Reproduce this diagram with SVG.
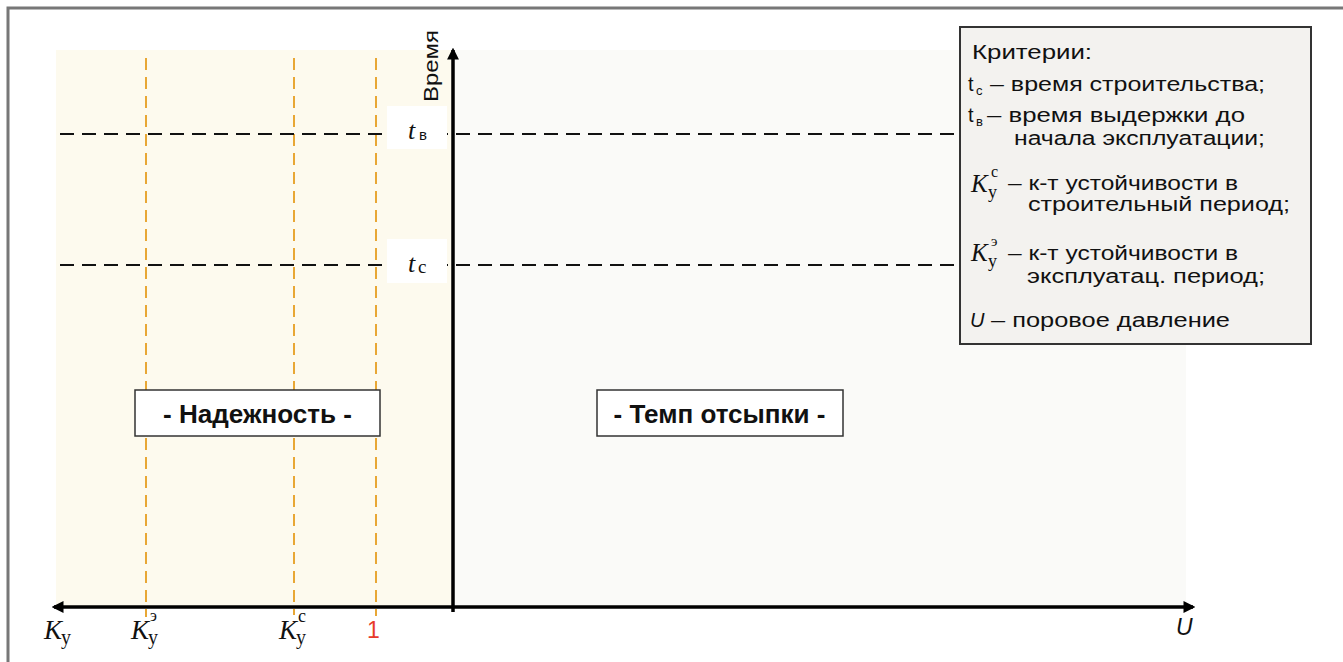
<svg xmlns="http://www.w3.org/2000/svg" width="1343" height="662" viewBox="0 0 1343 662">
  <defs>
    <style>
      .sans { font-family: "Liberation Sans", Arial, sans-serif; fill: #111; }
      .math { font-family: "Liberation Serif", "Times New Roman", serif; font-style: italic; fill: #111; }
      .up { font-family: "Liberation Serif", "Times New Roman", serif; fill: #111; }
      .legend { font-family: "Liberation Sans", Arial, sans-serif; font-size: 20px; fill: #111; }
      .sub { font-family: "Liberation Sans", Arial, sans-serif; font-size: 13px; fill: #111; }
      .guide { stroke: #e8a735; stroke-width: 2; stroke-dasharray: 12 7; fill: none; }
      .level { stroke: #111; stroke-width: 2; stroke-dasharray: 14 8; fill: none; }
      .axis { stroke: #000; stroke-width: 3.5; fill: none; }
      .tag { fill: #fff; stroke: #333; stroke-width: 1.5; }
      .tagtext { font-family: "Liberation Sans", Arial, sans-serif; font-size: 26px; font-weight: bold; fill: #111; }
    </style>
    <marker id="arrow" viewBox="0 0 10 10" refX="8" refY="5" markerWidth="3.4" markerHeight="3.8" orient="auto-start-reverse" markerUnits="strokeWidth">
      <path d="M0,0 L10,5 L0,10 z" fill="#000"/>
    </marker>
  </defs>

  <!-- page frame -->
  <rect x="0" y="0" width="1343" height="662" fill="#fff"/>
  <path d="M8,662 V8 H1343" fill="none" stroke="#777" stroke-width="3"/>

  <!-- zones -->
  <g id="zone-reliability">
    <rect x="56" y="50" width="397" height="556" fill="#fdfaee"/>
  </g>
  <g id="zone-rate">
    <rect x="453" y="50" width="733" height="556" fill="#fafaf8"/>
  </g>

  <!-- connectors: guides, levels and axes -->
  <g id="connectors">
    <line class="guide" x1="146" y1="58" x2="146" y2="617"/>
    <line class="guide" x1="294" y1="58" x2="294" y2="615"/>
    <line class="guide" x1="376" y1="58" x2="376" y2="616"/>
    <line class="level" x1="60" y1="134" x2="960" y2="134"/>
    <line class="level" x1="60" y1="265" x2="960" y2="265"/>
    <line class="axis" x1="453" y1="612" x2="453" y2="50" marker-end="url(#arrow)"/>
    <line class="axis" x1="54" y1="607" x2="1193" y2="607" marker-start="url(#arrow)" marker-end="url(#arrow)"/>
  </g>

  <!-- axis titles -->
  <g id="axis-time">
    <text class="sans" font-size="21" transform="translate(438,102) rotate(-90)" textLength="72" lengthAdjust="spacingAndGlyphs">Время</text>
  </g>
  <g id="axis-u">
    <text class="sans" font-size="23" font-style="italic" x="1176" y="635">U</text>
  </g>

  <!-- time levels -->
  <g id="level-tv">
    <rect x="387" y="106" width="60" height="43" fill="#fff"/>
    <text class="math" font-size="26" x="408" y="139">t</text>
    <text class="sans" font-size="15" x="419" y="140">в</text>
  </g>
  <g id="level-tc">
    <rect x="387" y="239" width="60" height="44" fill="#fff"/>
    <text class="math" font-size="26" x="408" y="272">t</text>
    <text class="up" font-size="19" x="418" y="273">c</text>
  </g>

  <!-- zone tags -->
  <g id="tag-reliability">
    <rect class="tag" x="135" y="390" width="245" height="46"/>
    <text class="tagtext" x="257.5" y="423" text-anchor="middle" textLength="189" lengthAdjust="spacingAndGlyphs">- Надежность -</text>
  </g>
  <g id="tag-rate">
    <rect class="tag" x="597" y="390" width="246" height="46"/>
    <text class="tagtext" x="719.5" y="423" text-anchor="middle" textLength="212" lengthAdjust="spacingAndGlyphs">- Темп отсыпки -</text>
  </g>

  <!-- horizontal axis marks -->
  <g id="mark-ky">
    <text class="math" font-size="27" x="44" y="639">K</text>
    <text class="up" font-size="20" x="61" y="644">у</text>
  </g>
  <g id="mark-ky-e">
    <text class="math" font-size="27" x="131" y="639">K</text>
    <text class="up" font-size="20" x="148" y="644">у</text>
    <text class="up" font-size="16" x="150" y="621">э</text>
  </g>
  <g id="mark-ky-c">
    <text class="math" font-size="27" x="279" y="639">K</text>
    <text class="up" font-size="20" x="296" y="644">у</text>
    <text class="up" font-size="18" x="298" y="622">с</text>
  </g>
  <g id="mark-one">
    <text font-family="Liberation Sans, Arial, sans-serif" font-size="23" fill="#e8392a" x="367" y="638">1</text>
  </g>

  <!-- criteria legend -->
  <g id="legend">
    <rect x="960" y="27" width="351" height="317" fill="#f3f2ef" stroke="#333" stroke-width="2"/>
    <text class="legend" x="972" y="59" textLength="120" lengthAdjust="spacingAndGlyphs">Критерии:</text>

    <text class="legend" x="968" y="91">t</text>
    <text class="sub" x="976" y="95">с</text>
    <text class="legend" x="990" y="91" textLength="275" lengthAdjust="spacingAndGlyphs">– время строительства;</text>

    <text class="legend" x="968" y="122">t</text>
    <text class="sub" x="976" y="126">в</text>
    <text class="legend" x="987" y="122" textLength="258" lengthAdjust="spacingAndGlyphs">– время выдержки до</text>
    <text class="legend" x="1014" y="145" textLength="251" lengthAdjust="spacingAndGlyphs">начала эксплуатации;</text>

    <text class="math" font-size="25" x="971" y="192">K</text>
    <text class="up" font-size="18" x="988" y="198">у</text>
    <text class="up" font-size="16" x="991" y="177">с</text>
    <text class="legend" x="1008" y="190" textLength="230" lengthAdjust="spacingAndGlyphs">– к-т устойчивости в</text>
    <text class="legend" x="1028" y="211" textLength="262" lengthAdjust="spacingAndGlyphs">строительный период;</text>

    <text class="math" font-size="25" x="971" y="261">K</text>
    <text class="up" font-size="18" x="988" y="267">у</text>
    <text class="up" font-size="15" x="991" y="246">э</text>
    <text class="legend" x="1008" y="260" textLength="230" lengthAdjust="spacingAndGlyphs">– к-т устойчивости в</text>
    <text class="legend" x="1027" y="283" textLength="238" lengthAdjust="spacingAndGlyphs">эксплуатац. период;</text>

    <text class="legend" font-style="italic" x="970" y="327">U</text>
    <text class="legend" x="991" y="327" textLength="239" lengthAdjust="spacingAndGlyphs">– поровое давление</text>
  </g>
</svg>
